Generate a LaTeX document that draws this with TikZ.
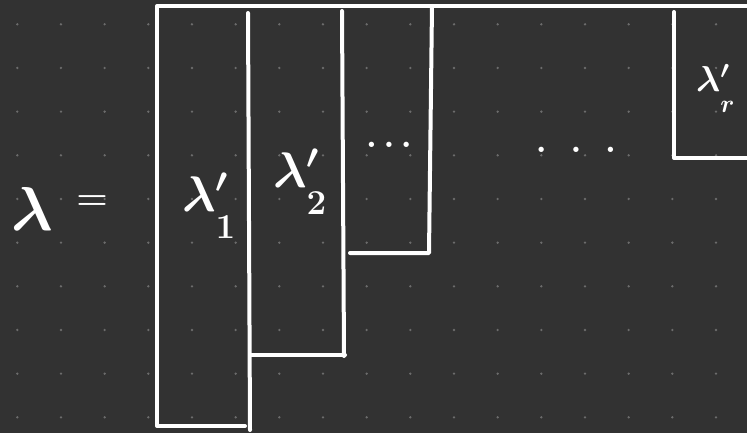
\RequirePackage{fix-cm}
\documentclass[tikz,border=0pt]{standalone}
\usepackage{amsmath,amssymb}
\usepackage{tikz}
\usetikzlibrary{
  positioning,
}
\definecolor{boardbg}{HTML}{323232}
\definecolor{gridDot}{HTML}{6C6C6C}
\definecolor{chalk}{HTML}{FFFFFF}
\tikzset{
  penline/.style={
    draw=chalk, line width=4pt, line cap=round, line join=round,
  },
  handLabel/.style={
    text=chalk, inner sep=0pt, font=\fontsize{50}{56}\selectfont\boldmath,
  },
  handLabelBig/.style={
    handLabel, font=\fontsize{62}{68}\selectfont\boldmath,
  },
  handLabelSmall/.style={
    handLabel, font=\fontsize{36}{40}\selectfont\boldmath,
  },
  handDots/.style={
    handLabel, font=\fontsize{34}{38}\selectfont\boldmath,
  },
}
% subscript written a little lower, as by hand
\newcommand{\lowsub}[1]{\raisebox{-0.25em}{$\scriptstyle #1$}}

\begin{document}
\begin{tikzpicture}[x=1pt, y=-1pt]

% Board
\fill[boardbg] (0,0) rectangle (747,433);
\useasboundingbox (0,0) rectangle (747,433);

% Dot grid
\foreach \i in {0,1,...,16}
{
  \foreach \j in {0,1,...,9}
  {
    \pgfmathsetmacro{\xpos}{17.3 + \i * 43.67}
    \pgfmathsetmacro{\ypos}{24.3 + \j * 43.67}
    \fill[gridDot] (\xpos, \ypos) circle (1.3pt);
  }
}

% Columns of the diagram
\draw[penline] (245,426) -- (157,426) -- (157,6) -- (747,6);
\draw[penline] (248,13) -- (250,430);
\draw[penline] (251,355) -- (345,355);
\draw[penline] (342,11) -- (344,356);
\draw[penline] (350,253) -- (429,253) -- (432,6);
\draw[penline] (674,12) -- (674,158) -- (747,158);

% Labels
\node[handLabelBig, anchor=base west] (lam) at (11,230) {$\lambda$};
\node[handLabelSmall] (eq) at (92,203) {$=$};
\node[handLabel, anchor=base west] (colOne) at (182,211)
   {$\lambda'_{\lowsub{1}}$};
\node[handLabel, anchor=base west] (colTwo) at (273,187)
   {$\lambda'_{\lowsub{2}}$};
\node[handDots] (dotsIn) at (389,145) {$\ldots$};
\node[handDots] (dotsOut) at (576,150)
   {$.\hspace{0.7em}.\hspace{0.7em}.$};
\node[handLabelSmall, anchor=base west] (colLast) at (696,92)
   {$\lambda'_{\lowsub{r}}$};

\end{tikzpicture}
\end{document}
